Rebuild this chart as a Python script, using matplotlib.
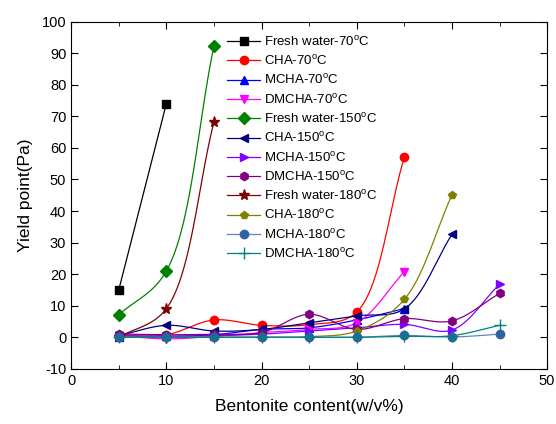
import numpy as np
import matplotlib
matplotlib.use("Agg")
import matplotlib.pyplot as plt
from matplotlib.ticker import MultipleLocator

plt.rcParams['font.family'] = ['Liberation Sans', 'DejaVu Sans']
plt.rcParams['mathtext.fontset'] = 'custom'
plt.rcParams['mathtext.rm'] = 'Liberation Sans'
plt.rcParams['mathtext.it'] = 'Liberation Sans'
plt.rcParams['axes.unicode_minus'] = False

# --- data ---
x_fw = [5, 10, 15]
x_35 = [5, 10, 15, 20, 25, 30, 35]
x_40 = [5, 10, 15, 20, 25, 30, 35, 40]
x_45 = [5, 10, 15, 20, 25, 30, 35, 40, 45]

fw_70 = [15, 74]
cha_70 = [0.5, 0.8, 5.5, 3.8, 4.0, 8.0, 57]
mcha_70 = [0.2, 0.3, 0.8, 2.5, 3.0, 5.5, 9.1]
dmcha_70 = [0.5, -0.5, 0.3, 1.5, 2.5, 4.6, 20.8]
fw_150 = [7.1, 21, 92.3]
cha_150 = [0.5, 3.8, 2.0, 2.5, 4.6, 6.8, 9.0, 32.6]
mcha_150 = [0.5, 0.3, 0.5, 1.0, 2.0, 3.0, 4.1, 2.3, 16.8]
dmcha_150 = [1.0, 0.8, 1.0, 1.5, 7.3, 2.5, 5.9, 5.2, 13.9]
fw_180 = [0.0, 9.1, 68.2]
cha_180 = [0.0, 0.0, 0.0, 0.0, 0.2, 2.0, 12.0, 45.1]
mcha_180 = [0.0, 0.0, 0.0, 0.0, 0.0, 0.0, 0.6, 0.1, 1.0]
dmcha_180 = [0.0, 0.0, 0.0, 0.0, 0.0, 0.0, 0.3, 0.5, 3.8]

series = [
    ('Fresh water-70', x_fw[:2], fw_70, 'black', 's', 'black'),
    ('CHA-70', x_35, cha_70, 'red', 'o', 'red'),
    ('MCHA-70', x_35, mcha_70, 'blue', '^', 'blue'),
    ('DMCHA-70', x_35, dmcha_70, '#FF00FF', 'v', '#FF00FF'),
    ('Fresh water-150', x_fw, fw_150, 'green', 'D', 'green'),
    ('CHA-150', x_40, cha_150, 'navy', '<', 'navy'),
    ('MCHA-150', x_45, mcha_150, '#8000FF', '>', '#8000FF'),
    ('DMCHA-150', x_45, dmcha_150, 'purple', 'h', 'purple'),
    ('Fresh water-180', x_fw, fw_180, '#800000', '*', '#800000'),
    ('CHA-180', x_40, cha_180, 'olive', 'p', 'olive'),
    ('MCHA-180', x_45, mcha_180, '#5F86BE', 'o', '#2F62A0'),
    ('DMCHA-180', x_45, dmcha_180, 'teal', '+', 'teal'),
]

# rough pixel scale of the plot, so the spline is smooth on screen
SX, SY = 9.5, 3.16


def smooth(x, y, n=40):
    """centripetal catmull-rom spline through the points (in screen space)"""
    P = np.column_stack([np.asarray(x, float) * SX, np.asarray(y, float) * SY])
    if len(P) < 3:
        return x, y
    P = np.vstack([2 * P[0] - P[1], P, 2 * P[-1] - P[-2]])
    out = []
    for k in range(1, len(P) - 2):
        p0, p1, p2, p3 = P[k - 1], P[k], P[k + 1], P[k + 2]
        t0 = 0.0
        t1 = t0 + np.linalg.norm(p1 - p0) ** 0.5
        t2 = t1 + np.linalg.norm(p2 - p1) ** 0.5
        t3 = t2 + np.linalg.norm(p3 - p2) ** 0.5
        t = np.linspace(t1, t2, n)[:, None]
        a1 = (t1 - t) / (t1 - t0) * p0 + (t - t0) / (t1 - t0) * p1
        a2 = (t2 - t) / (t2 - t1) * p1 + (t - t1) / (t2 - t1) * p2
        a3 = (t3 - t) / (t3 - t2) * p2 + (t - t2) / (t3 - t2) * p3
        b1 = (t2 - t) / (t2 - t0) * a1 + (t - t0) / (t2 - t0) * a2
        b2 = (t3 - t) / (t3 - t1) * a2 + (t - t1) / (t3 - t1) * a3
        c = (t2 - t) / (t2 - t1) * b1 + (t - t1) / (t2 - t1) * b2
        out.append(c)
    c = np.vstack(out)
    return c[:, 0] / SX, c[:, 1] / SY


fig = plt.figure(figsize=(5.56, 4.24), dpi=100)
ax = fig.add_axes([0.128, 0.130, 0.856, 0.819])

for name, xs, ys, col, mk, mcol in series:
    sx, sy = smooth(xs, ys)
    ax.plot(sx, sy, color=col, lw=0.9, zorder=2)
    ms = 8 if mk in '*+' else 6
    ax.plot(xs, ys, linestyle='none', marker=mk, color=mcol, ms=ms, mew=1, zorder=3)
    label = name + r'$^{\rm o}$C'
    ax.plot([], [], color=col, lw=0.9, marker=mk, ms=ms, mfc=mcol, mec=mcol, label=label)

ax.set_xlim(0, 50)
ax.set_ylim(-10, 100)
ax.xaxis.set_major_locator(MultipleLocator(10))
ax.xaxis.set_minor_locator(MultipleLocator(5))
ax.yaxis.set_major_locator(MultipleLocator(10))
ax.tick_params(which='both', direction='in', top=True, right=True, labelsize=10.5)
ax.tick_params(which='major', length=5)
ax.tick_params(which='minor', length=3)
ax.set_xlabel('Bentonite content(w/v%)', fontsize=12.5, labelpad=8)
ax.set_ylabel('Yield point(Pa)', fontsize=12.5, labelpad=6)

ax.legend(loc='upper left', bbox_to_anchor=(0.328, 0.962), frameon=False, fontsize=9.5,
          handlelength=2.5, handletextpad=0.3, labelspacing=0.4, borderpad=0, borderaxespad=0)

fig.savefig('out.png', dpi=100)
